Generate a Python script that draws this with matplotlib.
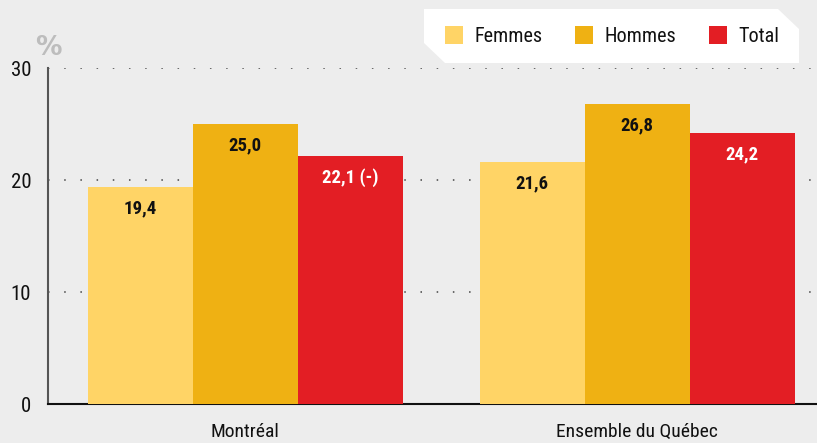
import matplotlib.pyplot as plt
from matplotlib.patches import Polygon, Rectangle
import numpy as np

plt.rcParams['font.family'] = ['Roboto Condensed', 'DejaVu Sans']

# data
regions = ['Montréal', 'Ensemble du Québec']
femmes = [19.4, 21.6]
hommes = [25.0, 26.8]
total = [22.1, 24.2]
labels_total = ['22,1 (-)', '24,2']
series = ['Femmes', 'Hommes', 'Total']
colors = ['#FFD466', '#EFB113', '#E31E24']
text_colors = ['#111111', '#111111', 'white']
yticks = [0, 10, 20, 30]

W, H = 817, 443
fig = plt.figure(figsize=(W / 100, H / 100), dpi=100)
fig.patch.set_facecolor('#EDEDED')
ax = fig.add_axes([48 / W, (H - 404) / H, (W - 48) / W, (404 - 68) / H])
ax.set_facecolor('#EDEDED')

x = np.arange(len(regions))
w = 0.268
vals = [femmes, hommes, total]
for i, (name, v, c, tc) in enumerate(zip(series, vals, colors, text_colors)):
    pos = x + (i - 1) * w
    bars = ax.bar(pos, v, w, color=c, label=name, zorder=3)
    for j, b in enumerate(bars):
        if name == 'Total':
            txt = labels_total[j]
        else:
            txt = f'{v[j]:.1f}'.replace('.', ',')
        ax.text(b.get_x() + b.get_width() / 2, v[j] - 1.9, txt,
                ha='center', va='center', fontsize=13.5, fontweight='bold',
                color=tc, zorder=4)

ax.set_ylim(0, 30)
ax.set_xlim(-0.503, 1.459)
ax.set_yticks(yticks)
ax.set_yticklabels([str(t) for t in yticks], fontsize=15, color='#111111')
ax.set_xticks(x)
ax.set_xticklabels(regions, fontsize=14, color='#111111')
ax.tick_params(axis='y', length=0, pad=12)
ax.tick_params(axis='x', length=0, pad=14)

for t in [10, 20, 30]:
    ax.axhline(t, color='#444444', linewidth=1.1, linestyle=(0, (1, 9.6)), zorder=1)

ax.spines['top'].set_visible(False)
ax.spines['right'].set_visible(False)
ax.spines['left'].set_color('#555555')
ax.spines['left'].set_linewidth(1.5)
ax.spines['bottom'].set_color('#111111')
ax.spines['bottom'].set_linewidth(1.5)

fig.text(48.5 / W, 1 - 48 / H, '%', fontsize=19, fontweight='bold', color='#BDBDBD',
         ha='center', va='center', family='DejaVu Sans')

# legend box with cut corners
pts = [(424, 9), (778, 9), (799, 29), (799, 63), (445, 63), (424, 43)]
poly = Polygon([(px / W, 1 - py / H) for px, py in pts], closed=True,
               transform=fig.transFigure, facecolor='white', edgecolor='none', zorder=0)
fig.patches.append(poly)

sq_x = [445, 575, 709]
txt_x = [475, 605, 738]
for name, c, sx, tx in zip(series, colors, sq_x, txt_x):
    fig.patches.append(Rectangle((sx / W, 1 - 44 / H), 18 / W, 18 / H,
                                 transform=fig.transFigure, facecolor=c,
                                 edgecolor='none', zorder=1))
    fig.text(tx / W, 1 - 36 / H, name, fontsize=14.5, color='#111111',
             ha='left', va='center')

fig.savefig('out.png', dpi=100, facecolor=fig.get_facecolor())
